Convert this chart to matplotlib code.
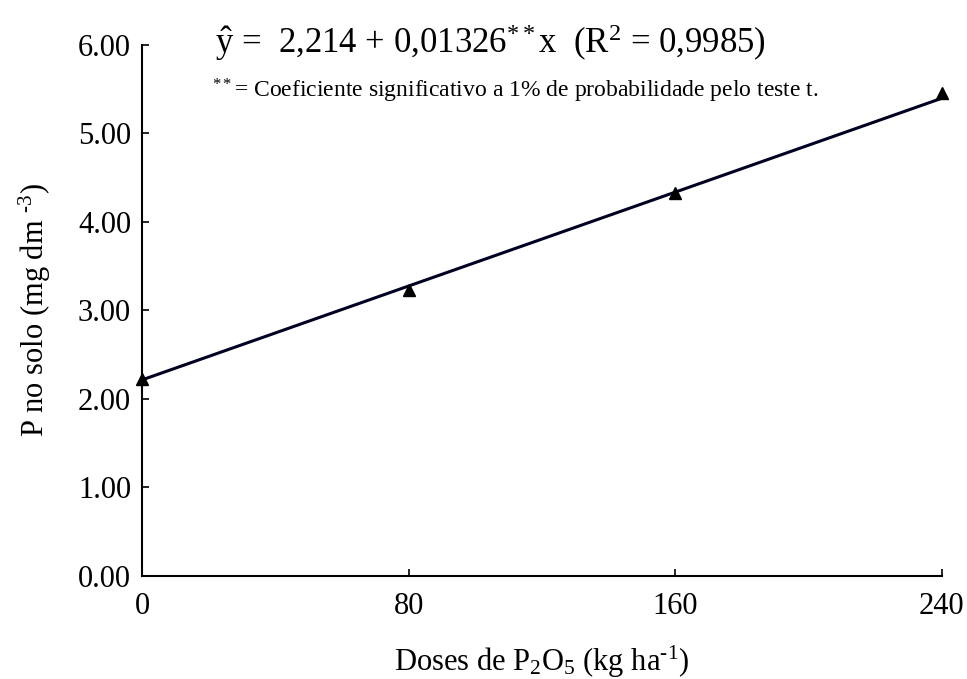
import matplotlib
matplotlib.use("Agg")
import matplotlib.pyplot as plt
import numpy as np

doses = [0, 80, 160, 240]
p_solo = [2.22, 3.23, 4.33, 5.46]
intercept = 2.214
slope = 0.01326
xticks = [0, 80, 160, 240]
yticks = [0, 1, 2, 3, 4, 5, 6]

plt.rcParams['font.family'] = ['Liberation Serif', 'DejaVu Serif']
plt.rcParams['mathtext.fontset'] = 'custom'
plt.rcParams['mathtext.rm'] = 'Liberation Serif'
plt.rcParams['mathtext.it'] = 'Liberation Serif:italic'
plt.rcParams['axes.unicode_minus'] = False

fig = plt.figure(figsize=(9.67, 6.79), dpi=100)
ax = fig.add_axes([0.147, 0.152, 0.827, 0.782])

xs = np.array([0, 240])
ax.plot(xs, intercept + slope * xs, color='#000022', lw=2.2, zorder=2)
ax.plot(doses, p_solo, linestyle='none', marker='^', color='black', ms=8, clip_on=False, zorder=3)

ax.set_xlim(0, 240)
ax.set_ylim(0, 6)
ax.set_xticks(xticks)
ax.set_xticklabels([str(v) for v in xticks])
ax.set_yticks(yticks)
ax.set_yticklabels([f"{v:.2f}" for v in yticks])
for s in ['top', 'right']:
    ax.spines[s].set_visible(False)
for s in ['left', 'bottom']:
    ax.spines[s].set_linewidth(1.5)
ax.tick_params(direction='in', length=5, width=1.2, labelsize=22)
ax.tick_params(axis='x', pad=12)
ax.tick_params(axis='y', pad=8)

ax.set_xlabel("Doses de P$_{2}$O$_{5}$ (kg ha$^{\u2010 1}$)", fontsize=22, labelpad=16)
ax.set_ylabel("P no solo (mg dm $^{\u2010 3}$)", fontsize=22, labelpad=18)

fig.text(0.222, 0.937, r"$\hat{\mathrm{y}}$ =  2,214 + 0,01326$^{**}$x  (R$^{2}$ = 0,9985)",
         fontsize=25, va='center', ha='left')
fig.text(0.219, 0.866, r"$^{**}$= Coeficiente significativo a 1% de probabilidade pelo teste t.",
         fontsize=17, va='center', ha='left')

fig.savefig("out.png", dpi=100)
